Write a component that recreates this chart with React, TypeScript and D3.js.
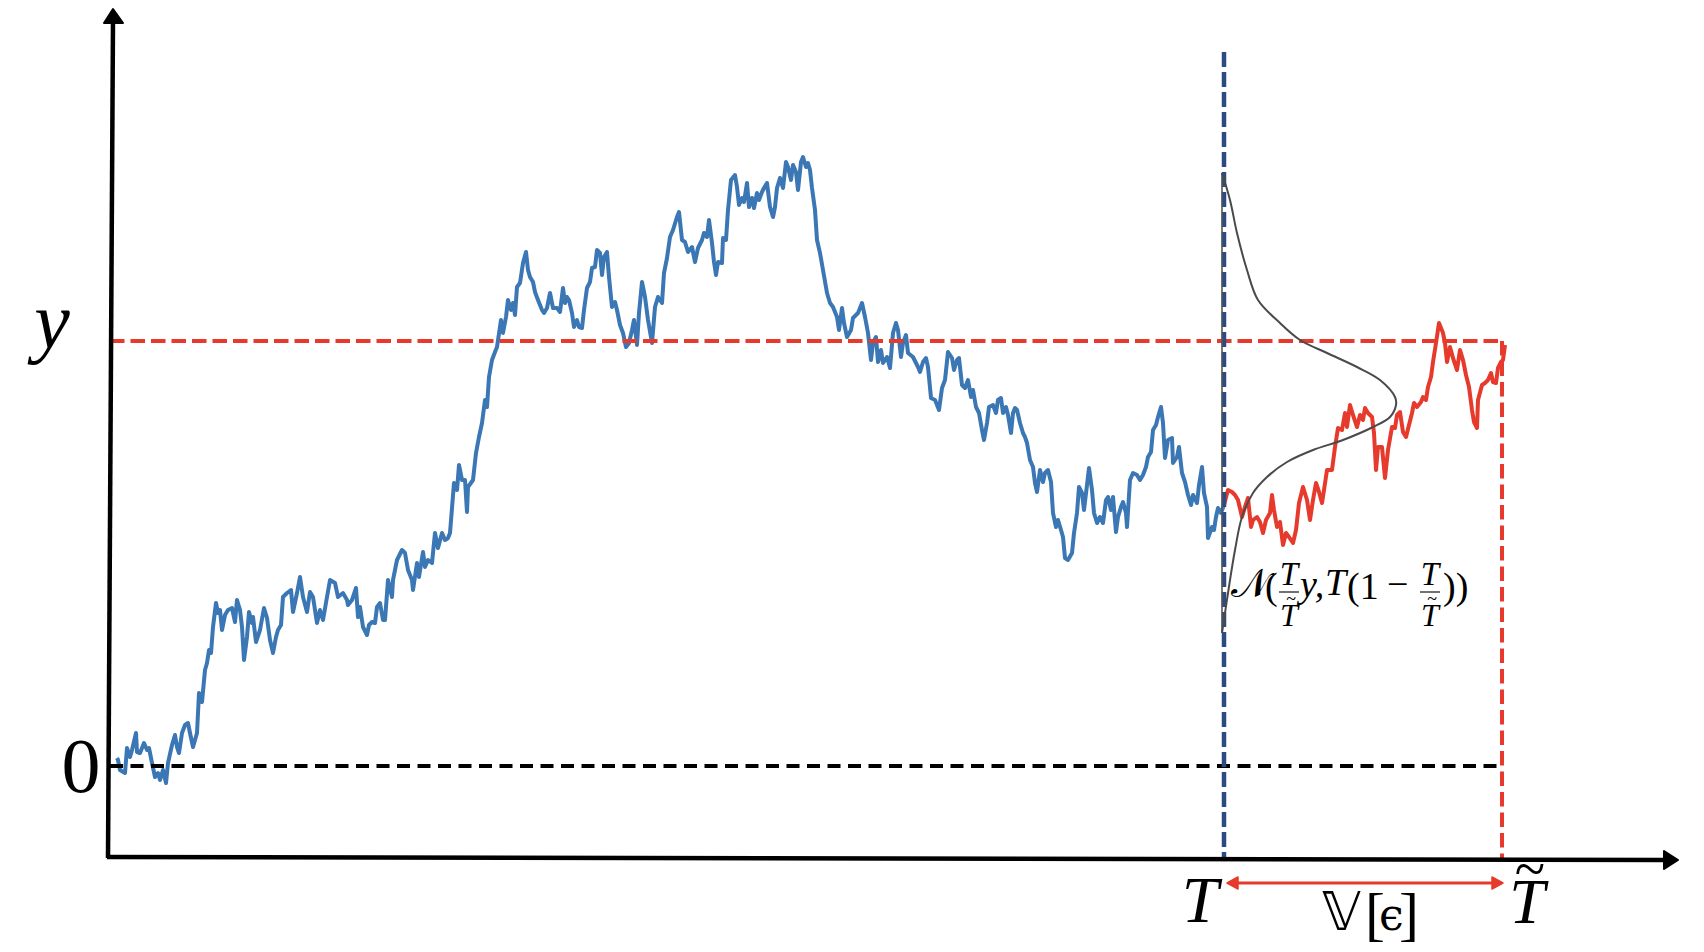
import React from 'react';
import * as d3 from 'd3';

// time axis: 0 at the y-axis, T and T~ are the two marked times
const T_END = 1112;
const T_TILDE = 1390;
// value axis: 0 and the level y
const ZERO = 0;
const Y_LEVEL = 425;

// Brownian path observed up to T  [time, value]
const bluePath: [number, number][] = [
  [5,8],[6,6],[8,-4],[13,-7],[15,18],[18,9],[20,16],[24,33],[25,14],[28,13],[32,23],[35,16],[37,18],[40,3],[43,-11],[46,-7],[48,-14],[51,-4],[54,-17],[56,3],[60,21],[63,31],[65,19],[67,13],[70,33],[73,41],[76,43],[78,33],[81,19],[85,33],[87,73],[90,64],[93,96],[95,103],[97,116],[99,113],[101,139],[104,163],[106,153],[108,156],[110,136],[113,151],[116,156],[120,158],[123,144],[125,166],[128,156],[130,139],[132,106],[135,129],[137,154],[140,143],[141,149],[144,124],[148,136],[152,158],[155,148],[158,126],[161,113],[164,129],[166,136],[169,141],[171,169],[175,173],[179,176],[181,154],[185,173],[188,189],[191,169],[195,154],[198,174],[201,169],[205,143],[208,156],[211,146],[215,169],[218,186],[223,183],[226,169],[231,173],[235,166],[236,161],[240,166],[244,178],[246,149],[248,159],[251,139],[255,131],[257,141],[260,144],[263,143],[265,159],[268,163],[271,146],[273,146],[276,186],[280,169],[281,186],[285,206],[290,216],[293,213],[296,196],[300,186],[301,176],[305,203],[307,189],[311,214],[313,199],[316,206],[320,203],[323,233],[326,218],[330,233],[333,226],[336,228],[338,233],[342,283],[345,276],[347,301],[350,286],[353,286],[355,254],[356,279],[361,286],[364,313],[367,329],[370,343],[373,366],[375,359],[377,389],[380,406],[383,414],[385,419],[389,446],[391,433],[394,449],[396,466],[399,456],[401,463],[403,451],[405,479],[408,483],[411,503],[414,514],[416,496],[418,489],[421,484],[423,474],[426,466],[430,456],[432,453],[435,458],[438,473],[441,458],[445,458],[448,454],[451,478],[453,463],[455,469],[457,466],[460,453],[462,439],[465,446],[467,439],[470,438],[472,456],[475,478],[478,484],[480,498],[483,499],[485,516],[488,513],[490,491],[492,509],[495,514],[497,489],[500,459],[503,464],[505,456],[508,441],[511,433],[514,419],[517,423],[520,436],[522,446],[525,421],[527,453],[530,484],[533,469],[536,446],[540,423],[543,459],[546,469],[550,463],[552,493],[555,508],[558,529],[561,536],[565,549],[567,554],[570,526],[573,524],[576,514],[580,519],[583,504],[586,518],[590,526],[592,533],[595,529],[597,546],[600,523],[602,504],[604,491],[606,504],[610,503],[611,528],[614,526],[616,556],[619,586],[623,591],[625,579],[627,561],[630,568],[632,564],[635,583],[637,559],[640,568],[642,558],[645,573],[647,566],[650,574],[652,578],[655,583],[658,559],[661,549],[663,559],[665,578],[668,588],[671,578],[674,604],[676,599],[679,586],[681,601],[684,594],[686,576],[689,604],[691,609],[694,599],[696,603],[698,596],[700,578],[703,556],[705,526],[708,513],[711,496],[715,473],[718,463],[721,459],[725,449],[727,436],[730,458],[732,443],[735,429],[739,436],[741,448],[746,453],[750,463],[753,449],[756,433],[759,406],[761,423],[764,429],[766,404],[769,416],[771,403],[775,409],[778,398],[781,433],[784,443],[786,436],[789,409],[791,423],[794,431],[796,413],[801,409],[806,399],[808,394],[811,404],[814,408],[816,399],[819,368],[823,366],[827,356],[830,378],[833,386],[836,414],[840,408],[842,396],[845,406],[847,408],[850,381],[853,378],[856,386],[859,369],[861,376],[864,359],[867,353],[870,336],[872,326],[875,343],[877,359],[881,361],[884,353],[886,366],[889,368],[891,353],[894,359],[896,351],[899,333],[901,353],[903,358],[905,356],[908,343],[911,333],[913,329],[915,323],[918,306],[921,299],[923,283],[925,274],[928,296],[931,284],[933,293],[936,296],[939,284],[941,253],[944,239],[946,246],[949,236],[951,229],[953,208],[956,206],[960,213],[962,233],[965,253],[967,279],[970,273],[972,256],[975,281],[977,298],[980,276],[982,253],[985,243],[988,249],[991,243],[994,266],[996,269],[999,256],[1001,269],[1004,234],[1006,249],[1009,259],[1011,264],[1014,253],[1015,239],[1018,286],[1021,293],[1025,291],[1028,286],[1031,291],[1034,299],[1036,309],[1039,314],[1041,336],[1044,341],[1046,349],[1049,359],[1051,343],[1053,308],[1056,326],[1060,328],[1061,303],[1065,309],[1067,319],[1070,293],[1073,284],[1076,271],[1079,261],[1081,271],[1085,263],[1087,281],[1090,299],[1092,273],[1095,259],[1096,228],[1100,239],[1102,236],[1104,249],[1106,258],[1109,253],[1112,261]
];

// bridge continuation from T to T~  [time, value]
const redPath: [number, number][] = [
  [1112,261],[1116,276],[1120,274],[1123,271],[1126,266],[1130,249],[1133,259],[1136,268],[1139,239],[1141,246],[1145,249],[1148,244],[1151,233],[1154,246],[1158,253],[1160,271],[1162,256],[1165,239],[1168,244],[1171,221],[1174,233],[1177,229],[1181,223],[1184,236],[1187,263],[1191,279],[1195,266],[1198,246],[1201,266],[1204,283],[1207,274],[1210,263],[1212,276],[1215,296],[1220,296],[1223,319],[1226,338],[1230,336],[1233,353],[1235,339],[1238,361],[1241,351],[1245,339],[1248,351],[1251,346],[1253,358],[1256,353],[1260,349],[1262,333],[1264,296],[1266,319],[1270,319],[1273,288],[1276,316],[1280,339],[1283,338],[1285,351],[1288,354],[1291,334],[1294,329],[1297,341],[1300,353],[1302,363],[1305,359],[1309,364],[1311,369],[1314,366],[1316,379],[1319,389],[1321,404],[1324,423],[1327,443],[1331,433],[1333,423],[1335,404],[1338,419],[1341,408],[1345,396],[1348,416],[1351,406],[1354,391],[1357,379],[1360,356],[1362,344],[1365,338],[1366,366],[1370,381],[1373,383],[1376,386],[1379,393],[1381,384],[1384,383],[1386,398],[1389,404],[1391,406],[1393,421]
];

// sideways density drawn at T  [value, density]
const densityCurve: [number, number][] = [
  [593,0],[566,8],[533,15],[496,25],[466,36],[443,58],[426,78],[413,105],[399,135],[386,158],[369,173],[361,174],[349,168],[339,151],[326,121],[316,91],[304,65],[289,45],[273,31],[249,20],[216,13],[173,6],[133,0]
];

const RED = '#e63a2c';
const BLUE = '#3a77b4';
const NAVY = '#2b4b82';
const SERIF = "'Liberation Serif', 'DejaVu Serif', serif";

export default function App() {
  const W = 1704, H = 952;
  const x = d3.scaleLinear().domain([0, T_TILDE]).range([112, 1502]);
  const y = d3.scaleLinear().domain([ZERO, Y_LEVEL]).range([766, 341]);
  const line = d3.line<[number, number]>().x(d => x(d[0])).y(d => y(d[1]));
  const densLine = d3
    .line<[number, number]>()
    .x(d => x(T_END + d[1]) - 2)
    .y(d => y(d[0]))
    .curve(d3.curveCatmullRom.alpha(0.5));

  const xT = x(T_END);
  const xTt = x(T_TILDE);
  const yY = y(Y_LEVEL);
  const y0 = y(ZERO);
  const densTop = y(densityCurve[0][0]);
  const densBot = y(densityCurve[densityCurve.length - 1][0]);

  return (
    <svg width={W} height={H} style={{ position: 'absolute', left: 0, top: 0, background: '#fff' }}>
      {/* paths */}
      <path d={line(bluePath) || ''} fill="none" stroke={BLUE} strokeWidth={4} strokeLinejoin="round" />
      <path d={line(redPath) || ''} fill="none" stroke={RED} strokeWidth={4} strokeLinejoin="round" />

      {/* reference lines */}
      <line x1={110} x2={xTt} y1={yY} y2={yY} stroke={RED} strokeWidth={4} strokeDasharray="14.5 6" />
      <line x1={110} x2={xTt} y1={y0} y2={y0} stroke="#000" strokeWidth={4} strokeDasharray="13 7.5" />
      <line x1={xT} x2={xT} y1={52} y2={858} stroke={NAVY} strokeWidth={4.5} strokeDasharray="15 5" />
      <line x1={xTt} x2={xTt} y1={yY} y2={858} stroke={RED} strokeWidth={4} strokeDasharray="14.5 6" />

      {/* density */}
      <line x1={xT - 2} x2={xT - 2} y1={densTop} y2={densBot} stroke="#555" strokeWidth={1.6} />
      <path d={densLine(densityCurve) || ''} fill="none" stroke="#4a4a4a" strokeWidth={2} />

      {/* axes */}
      <line x1={113} y1={20} x2={108} y2={858} stroke="#000" strokeWidth={4.5} />
      <polygon points="113,9 104,23 123,23" fill="#000" stroke="#000" strokeWidth={2} strokeLinejoin="round" />
      <line x1={107} y1={857} x2={1666} y2={860} stroke="#000" strokeWidth={4.5} />
      <polygon points="1678,860 1664,851 1664,869" fill="#000" stroke="#000" strokeWidth={2} strokeLinejoin="round" />

      {/* V[eps] arrow */}
      <line x1={xT + 10} x2={xTt - 10} y1={883} y2={883} stroke={RED} strokeWidth={3} />
      <polygon points={`${xT + 3},883 ${xT + 14},877 ${xT + 14},889`} fill={RED} stroke={RED} strokeWidth={1.5} strokeLinejoin="round" />
      <polygon points={`${xTt + 1},883 ${xTt - 10},877 ${xTt - 10},889`} fill={RED} stroke={RED} strokeWidth={1.5} strokeLinejoin="round" />

      {/* labels */}
      <g fontFamily={SERIF} fill="#000">
        <text x={52} y={348} fontSize={80} fontStyle="italic" textAnchor="middle">y</text>
        <text x={81} y={792} fontSize={78} textAnchor="middle">0</text>
        <text x={1200} y={922} fontSize={66} fontStyle="italic" textAnchor="middle">T</text>
        <text x={1527} y={923} fontSize={64} fontStyle="italic" textAnchor="middle">T</text>
        <text x={1530} y={888} fontSize={56} textAnchor="middle">~</text>
        <text x={1322} y={930} fontSize={54} fontFamily="'DejaVu Sans', 'Noto Sans', sans-serif">𝕍</text>
        <text x={1365} y={934} fontSize={60}>[</text>
        <text x={1379} y={930} fontSize={44} fontFamily="'DejaVu Serif', serif">ϵ</text>
        <text x={1399} y={934} fontSize={60}>]</text>

        {/* N(T/T~ y, T(1 - T/T~)) */}
        <text x={1231} y={597} fontSize={40} fontFamily="'DejaVu Sans', 'Noto Sans', serif">𝒩</text>
        <text x={1265} y={599} fontSize={38}>(</text>
        <text x={1289} y={585} fontSize={33} fontStyle="italic" textAnchor="middle">T</text>
        <line x1={1279} x2={1299} y1={592} y2={592} stroke="#111" strokeWidth={1.2} />
        <text x={1291} y={605} fontSize={18} textAnchor="middle">~</text>
        <text x={1289} y={626} fontSize={32} fontStyle="italic" textAnchor="middle">T</text>
        <text x={1300} y={597} fontSize={38} fontStyle="italic">y,</text>
        <text x={1325} y={595} fontSize={38} fontStyle="italic">T</text>
        <text x={1347} y={599} fontSize={38}>(1</text>
        <text x={1387} y={597} fontSize={38}>−</text>
        <text x={1430} y={585} fontSize={33} fontStyle="italic" textAnchor="middle">T</text>
        <line x1={1420} x2={1440} y1={592} y2={592} stroke="#111" strokeWidth={1.2} />
        <text x={1432} y={605} fontSize={18} textAnchor="middle">~</text>
        <text x={1430} y={626} fontSize={32} fontStyle="italic" textAnchor="middle">T</text>
        <text x={1443} y={599} fontSize={38}>))</text>
      </g>
    </svg>
  );
}
